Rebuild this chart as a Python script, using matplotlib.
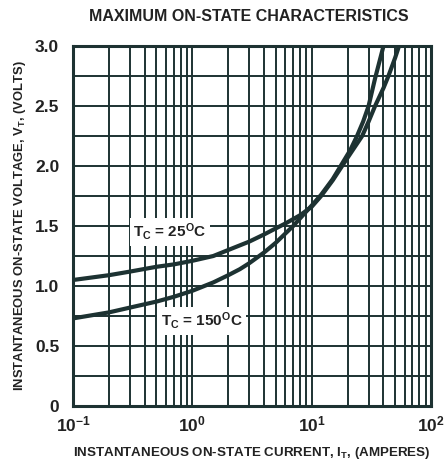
import matplotlib
matplotlib.use("Agg")
import matplotlib.pyplot as plt
from matplotlib.ticker import FixedLocator, FixedFormatter, NullFormatter

plt.rcParams['font.family'] = ['Liberation Sans', 'DejaVu Sans']
plt.rcParams['mathtext.fontset'] = 'custom'
plt.rcParams['mathtext.rm'] = 'Liberation Sans:bold'
plt.rcParams['mathtext.bf'] = 'Liberation Sans:bold'
plt.rcParams['mathtext.it'] = 'Liberation Sans:bold'

# ---- data ----
current_25 = [0.1, 0.2, 0.3, 0.5, 0.7, 1.0, 1.5, 2.0, 3.0, 4.0, 5.0, 6.0, 8.0,
              10, 12, 15, 18, 22, 26.5, 30, 34, 40, 44, 50, 54]
voltage_25 = [1.05, 1.09, 1.12, 1.16, 1.18, 1.21, 1.25, 1.30, 1.37, 1.43, 1.48, 1.52, 1.59,
              1.66, 1.75, 1.88, 2.00, 2.13, 2.25, 2.37, 2.50, 2.65, 2.75, 2.90, 3.00]

current_150 = [0.1, 0.2, 0.3, 0.5, 0.7, 1.0, 1.5, 2.0, 2.5, 3.0, 4.0, 5.0, 7.0, 9.0,
               10, 12, 15, 17.5, 21, 24, 27, 30, 34, 37, 40]
voltage_150 = [0.73, 0.78, 0.82, 0.87, 0.91, 0.96, 1.03, 1.09, 1.14, 1.19, 1.28, 1.36, 1.50, 1.62,
               1.67, 1.76, 1.89, 2.00, 2.13, 2.25, 2.37, 2.50, 2.73, 2.87, 3.00]

ytick_values = [0, 0.5, 1.0, 1.5, 2.0, 2.5, 3.0]
ytick_labels = ["0", "0.5", "1.0", "1.5", "2.0", "2.5", "3.0"]
ygrid_values = [0, 0.25, 0.5, 0.75, 1.0, 1.25, 1.5, 1.75, 2.0, 2.25, 2.5, 2.75, 3.0]
xtick_values = [0.1, 1, 10, 100]
xtick_labels = [r"$\mathregular{10^{-1}}$", r"$\mathregular{10^{0}}$",
                r"$\mathregular{10^{1}}$", r"$\mathregular{10^{2}}$"]

title = "MAXIMUM ON-STATE CHARACTERISTICS"
xlabel = r"INSTANTANEOUS ON-STATE CURRENT, I$\mathregular{_T}$, (AMPERES)"
ylabel = r"INSTANTANEOUS ON-STATE VOLTAGE, V$\mathregular{_T}$, (VOLTS)"
label_25 = r"T$\mathregular{_C}$ = 25$\mathregular{^O}$C"
label_150 = r"T$\mathregular{_C}$ = 150$\mathregular{^O}$C"

ink = '#1d3232'
text_c = '#222222'

fig = plt.figure(figsize=(4.48, 4.68), dpi=100)
ax = fig.add_axes([0.163, 0.1325, 0.799, 0.7692])

ax.set_xscale('log')
ax.set_xlim(0.1, 100)
ax.set_ylim(0, 3.0)

# grid lines
minor_x = [m * d for d in (0.1, 1, 10) for m in range(1, 10)] + [100]
for xv in minor_x:
    ax.axvline(xv, color=ink, lw=1.4, zorder=1)
for yv in ygrid_values:
    ax.axhline(yv, color=ink, lw=1.4, zorder=1)

ax.plot(current_25, voltage_25, color=ink, lw=3.0, zorder=3, solid_capstyle='butt')
ax.plot(current_150, voltage_150, color=ink, lw=3.0, zorder=3, solid_capstyle='butt')

ax.text(0.65, 1.45, label_25, fontsize=11, fontweight='bold', color=text_c,
        ha='center', va='center', zorder=5,
        bbox=dict(facecolor='white', edgecolor='none', pad=2.5))
ax.text(1.2, 0.71, label_150, fontsize=11, fontweight='bold', color=text_c,
        ha='center', va='center', zorder=5,
        bbox=dict(facecolor='white', edgecolor='none', pad=2.5))

ax.xaxis.set_major_locator(FixedLocator(xtick_values))
ax.xaxis.set_major_formatter(FixedFormatter(xtick_labels))
ax.xaxis.set_minor_formatter(NullFormatter())
ax.yaxis.set_major_locator(FixedLocator(ytick_values))
ax.yaxis.set_major_formatter(FixedFormatter(ytick_labels))
ax.tick_params(axis='both', which='both', length=0, labelsize=12.5, colors=text_c)
ax.tick_params(axis='y', pad=10)
ax.tick_params(axis='x', pad=6)
for lab in ax.get_yticklabels() + ax.get_xticklabels():
    lab.set_fontweight('bold')

for sp in ax.spines.values():
    sp.set_color(ink)
    sp.set_linewidth(2.2)
    sp.set_zorder(6)

fig.text(0.555, 0.965, title, fontsize=11.5, fontweight='bold', color=text_c,
         ha='center', va='center')
ax.set_xlabel(xlabel, fontsize=9.6, fontweight='bold', color=text_c, labelpad=8)
ax.set_ylabel(ylabel, fontsize=9.4, fontweight='bold', color=text_c, labelpad=5)

fig.savefig("out.png", dpi=100, facecolor='white')
